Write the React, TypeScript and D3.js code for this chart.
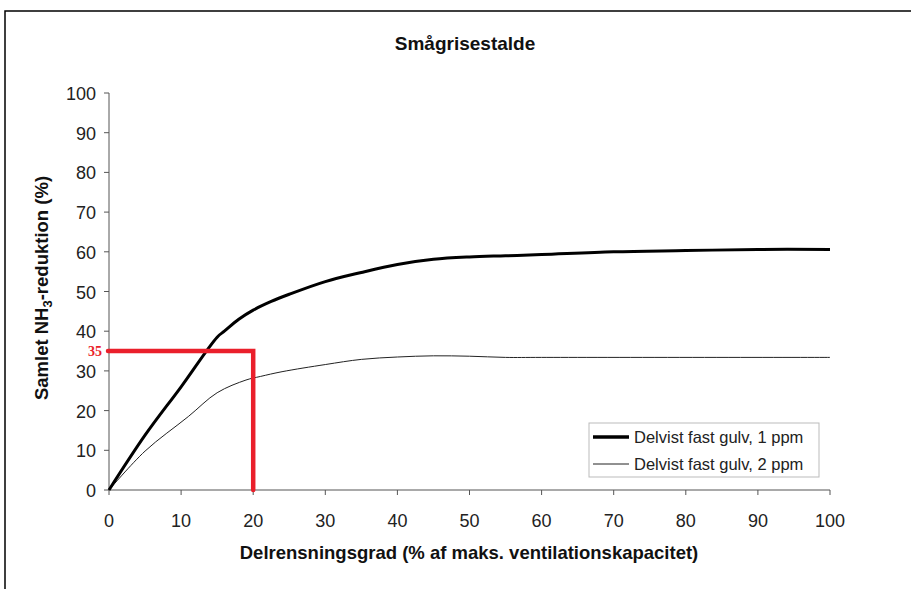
import React from "react";
import * as d3 from "d3";

const xs1 = [0, 5, 10, 15, 16, 18, 20, 22.5, 25, 30, 35, 40, 45, 50, 55, 60, 70, 80, 90, 100];
const ys1 = [0, 13.8, 26, 38.5, 40, 43, 45.3, 47.5, 49.3, 52.5, 54.8, 56.8, 58.1, 58.7, 59, 59.3, 60, 60.3, 60.6, 60.6];
const xs2 = [0, 5, 11, 15, 19, 21, 24, 30, 35, 40, 45, 50, 55, 60, 100];
const ys2 = [0, 9.8, 18.5, 24.5, 27.7, 28.6, 29.8, 31.6, 32.9, 33.5, 33.8, 33.7, 33.4, 33.4, 33.4];
const xTicks = [0, 10, 20, 30, 40, 50, 60, 70, 80, 90, 100];
const yTicks = [0, 10, 20, 30, 40, 50, 60, 70, 80, 90, 100];
const seriesNames = ["Delvist fast gulv, 1 ppm", "Delvist fast gulv, 2 ppm"];
const markX = 20;
const markY = 35;

export default function App() {
  const x = d3.scaleLinear().domain([0, 100]).range([109, 830]);
  const y = d3.scaleLinear().domain([0, 100]).range([490, 93]);
  const line = d3
    .line<[number, number]>()
    .x((d) => x(d[0]))
    .y((d) => y(d[1]))
    .curve(d3.curveCatmullRom.alpha(0.5));
  const d1 = line(xs1.map((v, i) => [v, ys1[i]] as [number, number])) || "";
  const d2 = line(xs2.map((v, i) => [v, ys2[i]] as [number, number])) || "";
  const font = "'Liberation Sans', Arial, sans-serif";
  const axisColor = "#555";
  return (
    <svg
      width={911}
      height={589}
      style={{ position: "absolute", left: 0, top: 0, background: "#fff" }}
      fontFamily={font}
    >
      <rect x={0} y={0} width={911} height={589} fill="#fff" />
      <path d="M5,589 V11 H911" fill="none" stroke="#000" strokeWidth={1.5} />
      <text x={465} y={50} textAnchor="middle" fontSize={19} fontWeight="bold" fill="#111">
        Smågrisestalde
      </text>
      {/* axes */}
      <line x1={x(0)} x2={x(0)} y1={y(0)} y2={y(100)} stroke={axisColor} strokeWidth={1} />
      <line x1={x(0)} x2={x(100)} y1={y(0)} y2={y(0)} stroke={axisColor} strokeWidth={1} />
      {yTicks.map((t) => (
        <g key={"y" + t}>
          <line x1={x(0) - 5} x2={x(0)} y1={y(t)} y2={y(t)} stroke={axisColor} />
          <text x={x(0) - 13} y={y(t) + 7} textAnchor="end" fontSize={18} fill="#222">
            {t}
          </text>
        </g>
      ))}
      {xTicks.map((t) => (
        <g key={"x" + t}>
          <line x1={x(t)} x2={x(t)} y1={y(0)} y2={y(0) + 5} stroke={axisColor} />
          <text x={x(t)} y={y(0) + 37} textAnchor="middle" fontSize={18} fill="#222">
            {t}
          </text>
        </g>
      ))}
      <text x={469} y={559} textAnchor="middle" fontSize={18.5} fontWeight="bold" fill="#111">
        Delrensningsgrad (% af maks. ventilationskapacitet)
      </text>
      <text
        transform={`translate(48,${288}) rotate(-90)`}
        textAnchor="middle"
        fontSize={18.5}
        fontWeight="bold"
        fill="#111"
      >
        Samlet NH
        <tspan fontSize={13} dy={4}>3</tspan>
        <tspan dy={-4}>-reduktion (%)</tspan>
      </text>
      {/* series */}
      <path d={d2} fill="none" stroke="#222" strokeWidth={1} strokeLinejoin="round" />
      <path d={d1} fill="none" stroke="#000" strokeWidth={3} strokeLinejoin="round" />
      {/* red annotation */}
      <path
        d={`M${x(0) - 1},${y(markY)} H${x(markX)} V${y(0)}`}
        fill="none"
        stroke="#ea1f2b"
        strokeWidth={4.5}
        strokeLinecap="round"
      />
      <text
        x={x(0) - 7}
        y={y(markY) + 5}
        textAnchor="end"
        fontSize={14}
        fontWeight="bold"
        fontFamily="'Liberation Serif', serif"
        fill="#ea1f2b"
      >
        {markY}
      </text>
      {/* legend */}
      <rect x={589} y={423} width={230} height={54} fill="#fff" stroke="#bbb" strokeWidth={1} />
      <line x1={593} x2={629} y1={437} y2={437} stroke="#000" strokeWidth={3.5} />
      <text x={634} y={443} fontSize={16.5} fill="#222">
        {seriesNames[0]}
      </text>
      <line x1={593} x2={629} y1={464} y2={464} stroke="#222" strokeWidth={1} />
      <text x={634} y={470} fontSize={16.5} fill="#222">
        {seriesNames[1]}
      </text>
    </svg>
  );
}
